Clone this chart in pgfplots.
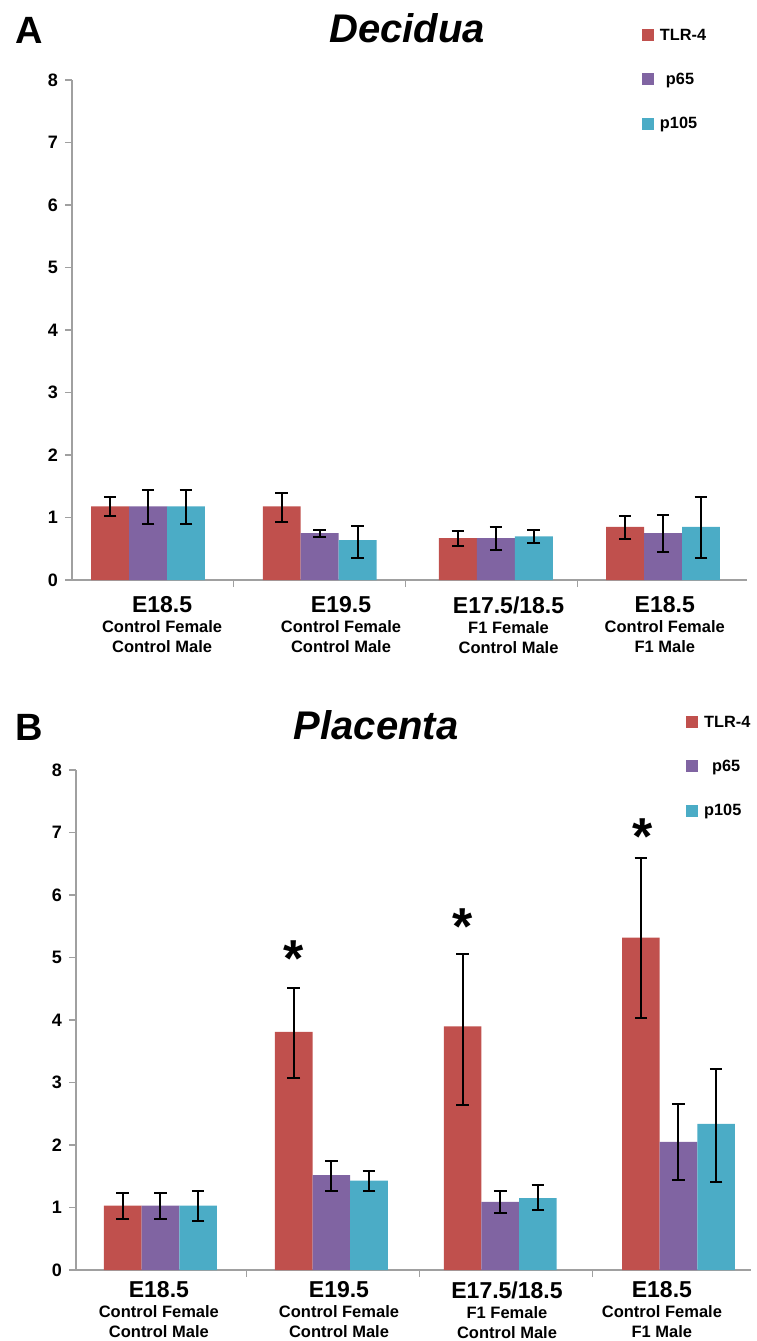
\documentclass[border=0pt]{standalone}
\usepackage{fontspec}
\setmainfont{Liberation Sans}
\usepackage{pgfplots}
\pgfplotsset{compat=1.18}
\definecolor{tlr}{HTML}{C0504D}
\definecolor{pp}{HTML}{8064A2}
\definecolor{pc}{HTML}{4BACC6}
\definecolor{axgray}{HTML}{A0A0A0}
\pgfplotsset{
  panel/.style={
    scale only axis, width=675pt, height=500pt,
    ymin=0, ymax=8, ytick={0,1,...,8},
    axis x line=bottom, axis y line=left,
    axis line style={axgray, line width=1.3pt, -},
    tick style={axgray, line width=1.2pt},
    major tick length=7pt, tick align=outside,
    /pgf/number format/assume math mode=true,
    yticklabel style={font=\fontsize{18}{18}\selectfont\bfseries, inner sep=2pt, xshift=-5pt},
    xtick={0.5,1.5,2.5}, xticklabels={},
    clip=false,
    legend style={draw=none, fill=none, inner sep=0pt, outer sep=0pt,
      anchor=north west, row sep=31.4pt, column sep=6pt,
      font=\fontsize{16.3}{16.3}\selectfont\bfseries,
      nodes={inner sep=0pt, outer sep=0pt, text height=12pt, text depth=0pt}},
    legend cell align=left,
  },
  bb/.style={ybar, draw=none, bar shift=0pt,
    error bars/y dir=both, error bars/y explicit,
    error bars/error mark=|,
    error bars/error bar style={draw=black, line width=2pt},
    error bars/error mark options={draw=black, line width=2pt, mark size=6.3pt}},
  catlab/.style={major tick length=0pt,
    xticklabel style={align=center, anchor=north, inner sep=0pt, yshift=#1,
      font=\fontsize{16.5}{20}\selectfont\bfseries}},
}
\begin{document}
\begin{tikzpicture}
\useasboundingbox (0,0) rectangle (757pt,-1341pt);
% Panel A
\node[font=\fontsize{38}{38}\selectfont\bfseries, anchor=base] at (29pt,-43pt) {A};
\node[font=\fontsize{40}{40}\selectfont\bfseries\itshape, anchor=base] at (407pt,-42pt) {Decidua};
\begin{axis}[panel, at={(72pt,-580pt)}, anchor=south west,
  xmin=-0.443, xmax=3.489,
  extra x ticks={0.082,1.124,2.10,3.01},
  extra x tick labels={{{\fontsize{23}{23}\selectfont E18.5}\\Control Female\\Control Male},
    {{\fontsize{23}{23}\selectfont E19.5}\\Control Female\\Control Male},
    {{\fontsize{23}{23}\selectfont E17.5/18.5}\\F1 Female\\Control Male},
    {{\fontsize{23}{23}\selectfont E18.5}\\Control Female\\F1 Male}},
  extra x tick style={catlab=-16.5pt},
  legend style={at={(axis description cs:0.8444,1.104)}},
]
\addplot[bb, bar width=0.221, fill=tlr,
  legend image code/.code={\fill[tlr] (0pt,-7pt) rectangle (12pt,5pt);}]
  coordinates {(-0.221,1.18) += (0,0.15) -= (0,0.16)
               (0.779,1.18) += (0,0.22) -= (0,0.25)
               (1.805,0.67) += (0,0.11) -= (0,0.13)
               (2.779,0.85) += (0,0.17) -= (0,0.20)};
\addplot[bb, bar width=0.221, fill=pp,
  legend image code/.code={\fill[pp] (0pt,-7pt) rectangle (12pt,5pt);}]
  coordinates {(0,1.18) += (0,0.26) -= (0,0.28)
               (1,0.75) += (0,0.05) -= (0,0.06)
               (2.026,0.67) += (0,0.18) -= (0,0.19)
               (3,0.75) += (0,0.29) -= (0,0.30)};
\addplot[bb, bar width=0.221, fill=pc,
  legend image code/.code={\fill[pc] (0pt,-7pt) rectangle (12pt,5pt);}]
  coordinates {(0.221,1.18) += (0,0.26) -= (0,0.28)
               (1.221,0.64) += (0,0.23) -= (0,0.29)
               (2.247,0.70) += (0,0.10) -= (0,0.10)
               (3.221,0.85) += (0,0.48) -= (0,0.50)};
\legend{TLR-4,\hspace{6pt}p65,p105}
\end{axis}
% Panel B
\node[font=\fontsize{38}{38}\selectfont\bfseries, anchor=base] at (29pt,-740pt) {B};
\node[font=\fontsize{40}{40}\selectfont\bfseries\itshape, anchor=base] at (376pt,-739pt) {Placenta};
\begin{axis}[panel, at={(76pt,-1270pt)}, anchor=south west,
  xmin=-0.489, xmax=3.42,
  extra x ticks={-0.009,1.034,2.007,2.904},
  extra x tick labels={{{\fontsize{23}{23}\selectfont E18.5}\\Control Female\\Control Male},
    {{\fontsize{23}{23}\selectfont E19.5}\\Control Female\\Control Male},
    {{\fontsize{23}{23}\selectfont E17.5/18.5}\\F1 Female\\Control Male},
    {{\fontsize{23}{23}\selectfont E18.5}\\Control Female\\F1 Male}},
  extra x tick style={catlab=-11.5pt},
  legend style={at={(axis description cs:0.904,1.110)}},
]
\addplot[bb, bar width=0.218, fill=tlr,
  legend image code/.code={\fill[tlr] (0pt,-7pt) rectangle (12pt,5pt);}]
  coordinates {(-0.218,1.03) += (0,0.20) -= (0,0.21)
               (0.772,3.81) += (0,0.71) -= (0,0.73)
               (1.750,3.90) += (0,1.16) -= (0,1.26)
               (2.782,5.32) += (0,1.28) -= (0,1.28)};
\addplot[bb, bar width=0.218, fill=pp,
  legend image code/.code={\fill[pp] (0pt,-7pt) rectangle (12pt,5pt);}]
  coordinates {(0,1.03) += (0,0.20) -= (0,0.21)
               (0.99,1.52) += (0,0.23) -= (0,0.25)
               (1.968,1.09) += (0,0.18) -= (0,0.18)
               (3,2.05) += (0,0.61) -= (0,0.61)};
\addplot[bb, bar width=0.218, fill=pc,
  legend image code/.code={\fill[pc] (0pt,-7pt) rectangle (12pt,5pt);}]
  coordinates {(0.218,1.03) += (0,0.24) -= (0,0.24)
               (1.208,1.43) += (0,0.16) -= (0,0.16)
               (2.186,1.15) += (0,0.21) -= (0,0.19)
               (3.218,2.34) += (0,0.88) -= (0,0.93)};
\legend{TLR-4,\hspace{8pt}p65,p105}
\node[font=\fontsize{52}{52}\selectfont\bfseries, anchor=base, yshift=-25pt] at (axis cs:0.773,5.10) {*};
\node[font=\fontsize{52}{52}\selectfont\bfseries, anchor=base, yshift=-25pt] at (axis cs:1.752,5.61) {*};
\node[font=\fontsize{52}{52}\selectfont\bfseries, anchor=base, yshift=-25pt] at (axis cs:2.794,7.05) {*};
\end{axis}
\end{tikzpicture}
\end{document}
